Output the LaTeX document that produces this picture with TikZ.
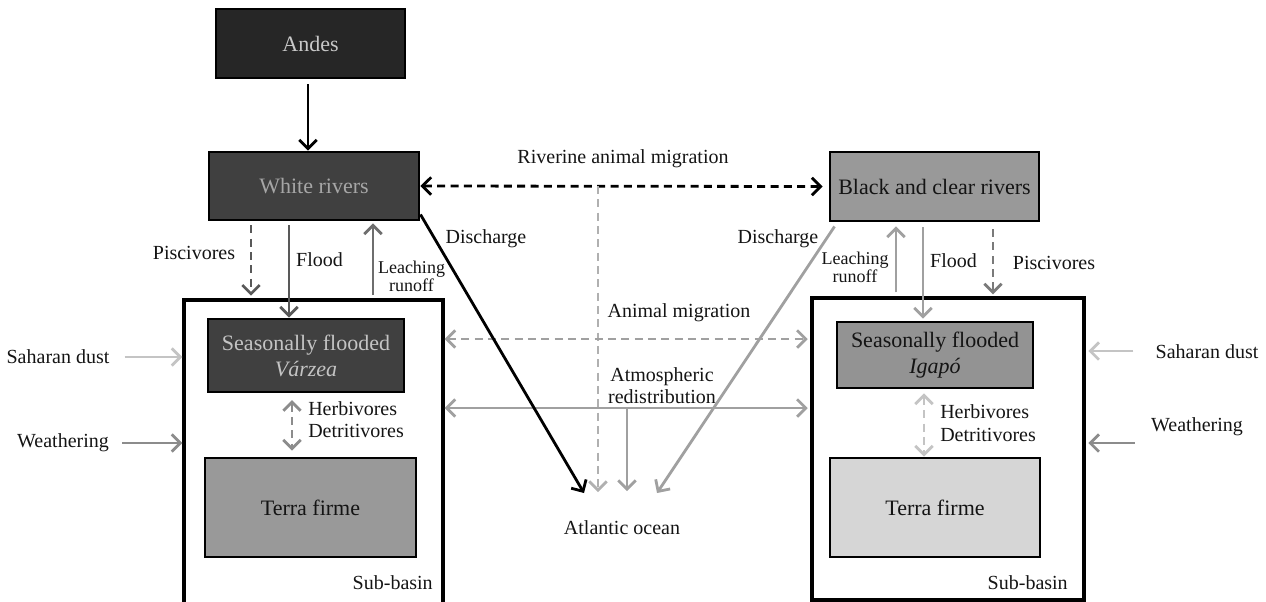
\documentclass[tikz,border=0pt]{standalone}
\usepackage{fontspec}
\setmainfont{Liberation Serif}
\usetikzlibrary{arrows.meta,calc}
\definecolor{andesfill}{HTML}{262626}
\definecolor{andestext}{HTML}{C8C8C8}
\definecolor{whitefill}{HTML}{404040}
\definecolor{whitetext}{HTML}{A6A6A6}
\definecolor{varzeatext}{HTML}{C4C4C4}
\definecolor{midfill}{HTML}{999999}
\definecolor{igapofill}{HTML}{939393}
\definecolor{terraR}{HTML}{D6D6D6}
\definecolor{txt}{HTML}{141414}
\definecolor{gA}{HTML}{595959}
\definecolor{gB}{HTML}{6E6E6E}
\definecolor{gC}{HTML}{A0A0A0}
\definecolor{gD}{HTML}{B0B0B0}
\definecolor{gE}{HTML}{8C8C8C}
\definecolor{gF}{HTML}{C4C4C4}
\definecolor{gG}{HTML}{7A7A7A}
\newcommand{\lblfont}{\fontsize{15}{17}\selectfont}
\newcommand{\boxfont}{\fontsize{16.5}{19.5}\selectfont}
\newcommand{\leachfont}{\fontsize{13.5}{13.5}\selectfont}
\tikzset{
  bx/.style={draw=black, line width=2.2pt, inner sep=0pt, align=center, font=\boxfont, text=txt},
  subbasin/.style={draw=black, line width=2.3pt, inner sep=0pt},
  lbl/.style={font=\lblfont, text=txt, align=center, inner sep=0pt},
  tip/.style={-{Straight Barb[length=6.5pt,width=13pt,line width=2.1pt]}},
  dtip/.style={{Straight Barb[length=6.5pt,width=13pt,line width=2.1pt]}-{Straight Barb[length=6.5pt,width=13pt,line width=2.1pt]}},
  ln/.style={line width=2.1pt},
  dsh/.style={dash pattern=on 6pt off 4pt},
}
\begin{document}
\begin{tikzpicture}[x=0.75pt,y=-0.75pt]
\useasboundingbox (0,0) rectangle (1266,601);
% sub-basins
\draw[subbasin] (184,300) rectangle (443,604);
\node[inner sep=0pt, minimum width=194.25pt, minimum height=228pt] (subL) at (313.5,452) {};
\draw[subbasin] (812,298) rectangle (1084,600);
\node[inner sep=0pt, minimum width=204pt, minimum height=226.5pt] (subR) at (948,449) {};
% boxes
\node[bx, fill=andesfill, text=andestext, minimum width=141.75pt, minimum height=51.75pt] (andes) at (310.5,43.5) {Andes};
\node[bx, fill=whitefill, text=whitetext, minimum width=157.5pt, minimum height=51pt] (white) at (314,186) {White rivers};
\node[bx, fill=whitefill, text=varzeatext, minimum width=147pt, minimum height=54.75pt] (varzea) at (306,355.5) {Seasonally flooded\\\textit{Várzea}};
\node[bx, fill=midfill, minimum width=158.25pt, minimum height=74.25pt] (terraL) at (310.5,507.5) {Terra firme};
\node[bx, fill=midfill, minimum width=156.75pt, minimum height=51.75pt] (black) at (934.5,186.5) {Black and clear rivers};
\node[bx, fill=igapofill, minimum width=147pt, minimum height=49.5pt] (igapo) at (935,355) {Seasonally flooded\\\textit{Igapó}};
\node[bx, fill=terraR, minimum width=157.5pt, minimum height=74.25pt] (terraR) at (935,507.5) {Terra firme};
\node[lbl] (atl) at (622,528) {Atlantic ocean};
% labels
\node[lbl, anchor=east] at (433,583) {Sub-basin};
\node[lbl, anchor=east] at (1068,583) {Sub-basin};
\node[lbl] at (623,159) {Riverine animal migration};
\node[lbl] at (486,239) {Discharge};
\node[lbl] at (778,239) {Discharge};
\node[lbl] at (679,313) {Animal migration};
\node[lbl, font=\fontsize{15}{16.5}\selectfont] at (662,386) {Atmospheric\\redistribution};
\node[lbl] at (194,253) {Piscivores};
\node[lbl] at (1054,263) {Piscivores};
\node[lbl] at (319.5,260) {Flood};
\node[lbl] at (953.5,261) {Flood};
\node[lbl, font=\leachfont] at (411.5,276.5) {Leaching\\runoff};
\node[lbl, font=\leachfont] at (855,267) {Leaching\\runoff};
\node[lbl, anchor=west, align=left, font=\fontsize{15}{17}\selectfont] at (308,419.5) {Herbivores\\Detritivores};
\node[lbl, anchor=west, align=left, font=\fontsize{15}{17}\selectfont] at (940,423) {Herbivores\\Detritivores};
\node[lbl] (sdL) at (58,357) {Saharan dust};
\node[lbl] (wL) at (63,443) {Weathering};
\node[lbl] (sdR) at (1207,352) {Saharan dust};
\node[lbl] (wR) at (1197,427) {Weathering};
% column coordinates
\coordinate (xA) at (308,0);
\coordinate (xPL) at (251,0);
\coordinate (xFL) at (289,0);
\coordinate (xLL) at (373,0);
\coordinate (xHL) at (292,0);
\coordinate (xLR) at (896,0);
\coordinate (xFR) at (923,0);
\coordinate (xPR) at (993,0);
\coordinate (xHR) at (924,0);
\coordinate (yAM) at (0,339);
\coordinate (yAT) at (0,408);
\coordinate (oL) at (584,493);
\coordinate (oV) at (598,492);
\coordinate (oA) at (627,491);
\coordinate (oR) at (657,493);
\coordinate (ySL) at (0,357);
\coordinate (yWL) at (0,443);
\coordinate (ySR) at (0,351);
\coordinate (yWR) at (0,443);
% connectors left
\draw[ln, black, tip, shorten <=3.5pt] (andes.south -| xA) -- (white.north -| xA);
\draw[ln, gA, tip, dsh, shorten <=3pt, shorten >=3pt] (white.south -| xPL) -- (subL.north -| xPL);
\draw[ln, gA, tip, shorten <=3pt] (white.south -| xFL) -- (varzea.north -| xFL);
\draw[ln, gB, tip, shorten <=3.5pt, shorten >=1.5pt] (subL.north -| xLL) -- (white.south -| xLL);
\draw[ln, gE, dtip, dsh, shorten <=5pt, shorten >=4.5pt] (varzea.south -| xHL) -- (terraL.north -| xHL);
% connectors right
\draw[ln, gC, tip, shorten <=4pt, shorten >=3pt] (subR.north -| xLR) -- (black.south -| xLR);
\draw[ln, gC, tip, shorten <=3.5pt, shorten >=1.5pt] (black.south -| xFR) -- (igapo.north -| xFR);
\draw[ln, gG, tip, dsh, shorten <=5pt, shorten >=2.5pt] (black.south -| xPR) -- (subR.north -| xPR);
\draw[ln, gF, dtip, dsh, shorten <=3pt] (igapo.south -| xHR) -- (terraR.north -| xHR);
% middle
\draw[ln, black, dtip, dsh, shorten >=4.5pt] (white.east) -- (black.west);
\draw[ln, gD, dsh, tip] (white.east -| oV) -- (oV);
\draw[ln, gC, dtip, dsh, shorten <=1pt, shorten >=3pt] (subL.east |- yAM) -- (subR.west |- yAM);
\draw[ln, gC, dtip, shorten <=1pt, shorten >=3pt] (subL.east |- yAT) -- (subR.west |- yAT);
\draw[ln, gC, tip] (yAT -| oA) -- (oA);
\draw[ln, black, tip] ($(white.south east)+(0,-7)$) -- (oL);
\draw[ln, gC, tip] ($(black.south west)+(6,4)$) -- (oR);
% external inputs
\draw[ln, gF, tip, shorten >=1pt] (sdL.east |- ySL) ++(15,0) -- (subL.west |- ySL);
\draw[ln, gE, tip, shorten >=1pt] (wL.east |- yWL) ++(13,0) -- (subL.west |- yWL);
\draw[ln, gF, tip, shorten >=3pt] (sdR.west |- ySR) ++(-22,0) -- (subR.east |- ySR);
\draw[ln, gE, tip, shorten >=3pt] (wR.west |- yWR) ++(-16,0) -- (subR.east |- yWR);
\end{tikzpicture}
\end{document}
